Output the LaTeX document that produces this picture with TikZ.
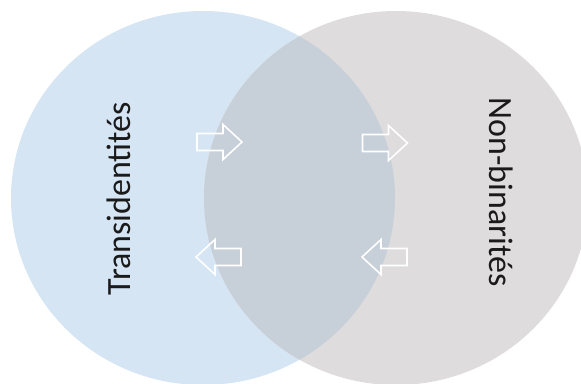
\documentclass[tikz,border=0pt]{standalone}
\usepackage{fontspec}
\setmainfont{Carlito}
\definecolor{leftblue}{HTML}{D6E5F4}
\definecolor{rightgray}{HTML}{DEDCDC}
\definecolor{overlapc}{HTML}{C7D0D8}
\definecolor{txt}{HTML}{1A1A1A}
\tikzset{
  blockarrow/.pic={
    \draw[white, line width=1.6pt, line join=miter]
      (-22.5,-8.5) -- (3.5,-8.5) -- (3.5,-17.5) -- (22.5,0) -- (3.5,17.5) -- (3.5,8.5) -- (-22.5,8.5) -- cycle;
  },
  lbl/.style={text=txt, font=\fontsize{34}{40}\selectfont, inner sep=0pt, anchor=base}
}
\begin{document}
\begin{tikzpicture}[x=1pt, y=-1pt]
\useasboundingbox (0,0) rectangle (581,383);
\clip (0,0) rectangle (581,383);
\fill[leftblue] (203,198) ellipse [x radius=192, y radius=187];
\fill[rightgray] (396,198) ellipse [x radius=192, y radius=187];
\begin{scope}
  \clip (203,198) ellipse [x radius=192, y radius=187];
  \fill[overlapc] (396,198) ellipse [x radius=192, y radius=187];
\end{scope}
\node[lbl, rotate=90] (trans) at (130,198.5) {Transidentités};
\node[lbl, rotate=-90] (nonbin) at (489,192) {Non-binarités};
\pic at (219.5,142) {blockarrow};
\pic at (385,143) {blockarrow};
\pic[rotate=180] at (218.5,257) {blockarrow};
\pic[rotate=180] at (384.5,257) {blockarrow};
\end{tikzpicture}
\end{document}
